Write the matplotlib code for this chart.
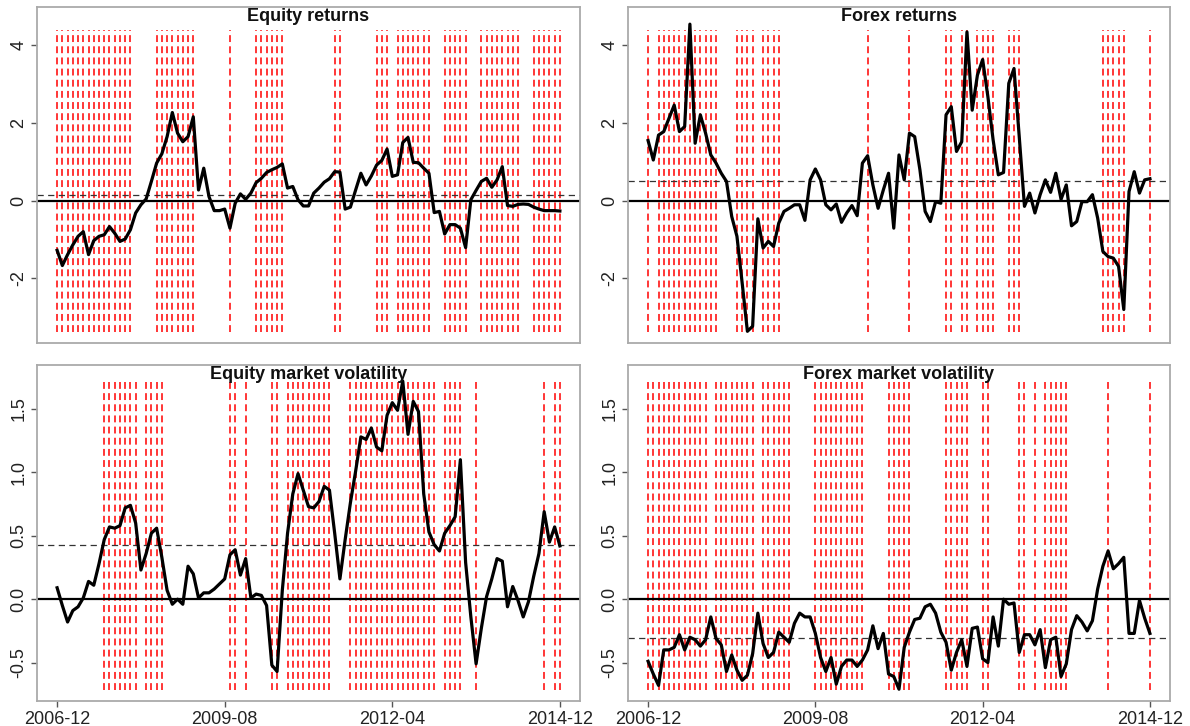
import numpy as np
import matplotlib
matplotlib.use("Agg")
import matplotlib.pyplot as plt

plt.rcParams['font.family'] = ['Liberation Sans', 'DejaVu Sans']
plt.rcParams['axes.unicode_minus'] = False

# monthly observations 2006-12 .. 2014-12 (97 months)
tick_pos = [0, 32, 64, 96]
tick_labels = ['2006-12', '2009-08', '2012-04', '2014-12']

equity_returns = [
    -1.28, -1.67, -1.39, -1.14, -0.92, -0.80, -1.39, -1.03, -0.92, -0.88,
    -0.67, -0.84, -1.05, -0.99, -0.75, -0.32, -0.11, 0.04, 0.49, 0.96,
    1.20, 1.64, 2.26, 1.73, 1.51, 1.64, 2.15, 0.27, 0.83, 0.10,
    -0.26, -0.26, -0.22, -0.71, -0.07, 0.17, 0.03, 0.19, 0.46, 0.57,
    0.72, 0.79, 0.85, 0.94, 0.32, 0.36, 0.02, -0.14, -0.14, 0.19,
    0.32, 0.47, 0.56, 0.74, 0.73, -0.22, -0.17, 0.27, 0.70, 0.40,
    0.63, 0.91, 1.03, 1.32, 0.62, 0.66, 1.49, 1.62, 0.98, 0.97,
    0.83, 0.70, -0.31, -0.28, -0.86, -0.62, -0.62, -0.71, -1.21, 0.02,
    0.26, 0.49, 0.57, 0.34, 0.53, 0.87, -0.13, -0.15, -0.10, -0.09,
    -0.10, -0.17, -0.22, -0.26, -0.26, -0.26, -0.27]

forex_returns = [
    1.54, 1.04, 1.68, 1.77, 2.11, 2.45, 1.77, 1.90, 4.53, 1.47,
    2.20, 1.73, 1.17, 0.96, 0.70, 0.49, -0.41, -0.92, -2.12, -3.36,
    -3.23, -0.47, -1.22, -1.05, -1.18, -0.58, -0.28, -0.20, -0.11, -0.11,
    -0.51, 0.53, 0.81, 0.53, -0.11, -0.24, -0.09, -0.56, -0.32, -0.13,
    -0.39, 0.96, 1.15, 0.40, -0.20, 0.27, 0.70, -0.71, 1.17, 0.53,
    1.73, 1.64, 0.79, -0.28, -0.54, -0.03, -0.07, 2.20, 2.41, 1.26,
    1.51, 4.33, 2.32, 3.22, 3.62, 2.67, 1.56, 0.66, 0.72, 3.01,
    3.39, 1.64, -0.15, 0.19, -0.32, 0.15, 0.53, 0.21, 0.70, 0.03,
    0.40, -0.65, -0.54, -0.03, -0.03, 0.15, -0.45, -1.31, -1.44, -1.48,
    -1.69, -2.80, 0.23, 0.74, 0.19, 0.53, 0.56]

equity_vol = [
    0.09, -0.05, -0.18, -0.09, -0.06, 0.01, 0.14, 0.11, 0.28, 0.47,
    0.57, 0.56, 0.58, 0.72, 0.74, 0.60, 0.23, 0.36, 0.52, 0.56,
    0.33, 0.07, -0.04, 0.00, -0.04, 0.26, 0.20, 0.01, 0.05, 0.05,
    0.08, 0.12, 0.16, 0.35, 0.39, 0.19, 0.32, 0.01, 0.04, 0.03,
    -0.05, -0.52, -0.57, 0.07, 0.52, 0.83, 0.99, 0.86, 0.73, 0.72,
    0.77, 0.89, 0.86, 0.52, 0.16, 0.47, 0.76, 1.01, 1.28, 1.26,
    1.35, 1.20, 1.17, 1.45, 1.55, 1.49, 1.72, 1.30, 1.56, 1.48,
    0.83, 0.53, 0.43, 0.38, 0.52, 0.58, 0.65, 1.10, 0.29, -0.14,
    -0.51, -0.23, 0.02, 0.16, 0.32, 0.30, -0.06, 0.10, -0.01, -0.14,
    -0.02, 0.18, 0.36, 0.69, 0.45, 0.57, 0.42]

forex_vol = [
    -0.49, -0.59, -0.68, -0.40, -0.40, -0.38, -0.28, -0.40, -0.30, -0.32,
    -0.37, -0.32, -0.14, -0.31, -0.36, -0.57, -0.44, -0.56, -0.64, -0.60,
    -0.43, -0.11, -0.35, -0.46, -0.42, -0.26, -0.30, -0.34, -0.19, -0.11,
    -0.14, -0.14, -0.27, -0.46, -0.57, -0.46, -0.67, -0.53, -0.48, -0.48,
    -0.53, -0.48, -0.40, -0.21, -0.39, -0.27, -0.59, -0.61, -0.71, -0.38,
    -0.26, -0.16, -0.15, -0.06, -0.04, -0.11, -0.26, -0.34, -0.56, -0.42,
    -0.32, -0.53, -0.23, -0.22, -0.47, -0.50, -0.14, -0.37, 0.00, -0.04,
    -0.03, -0.42, -0.28, -0.28, -0.36, -0.24, -0.54, -0.32, -0.30, -0.61,
    -0.51, -0.24, -0.13, -0.18, -0.25, -0.17, 0.08, 0.26, 0.38, 0.24,
    0.28, 0.33, -0.27, -0.27, -0.01, -0.15, -0.27]

# average levels (dashed lines)
equity_returns_mean = 0.15
forex_returns_mean = 0.49
equity_vol_mean = 0.43
forex_vol_mean = -0.31

# months flagged with red dashed lines
equity_returns_flags = (list(range(0, 15)) + list(range(19, 27)) + [33]
                        + list(range(38, 44)) + [53, 54] + list(range(61, 64))
                        + list(range(65, 72)) + list(range(74, 79))
                        + list(range(81, 89)) + list(range(91, 97)))
forex_returns_flags = ([0] + list(range(2, 14)) + list(range(17, 21))
                       + list(range(22, 26)) + [42, 50, 57, 58, 60, 61]
                       + list(range(63, 67)) + list(range(69, 72))
                       + list(range(87, 92)) + [96])
equity_vol_flags = (list(range(9, 16)) + list(range(17, 21)) + [33, 34, 36, 41, 42]
                    + list(range(44, 53)) + list(range(56, 73))
                    + list(range(74, 78)) + [80, 93, 95, 96])
forex_vol_flags = (list(range(0, 12)) + list(range(13, 21)) + list(range(22, 28))
                   + list(range(32, 42)) + list(range(46, 51))
                   + list(range(57, 62)) + [64, 65, 71, 72, 74]
                   + list(range(76, 81)) + [88, 96])

months = np.arange(len(equity_returns))

W, H = 1190, 726
fig = plt.figure(figsize=(W / 100, H / 100), dpi=100)


def px_axes(x0, y0, x1, y1):
    return fig.add_axes([x0 / W, 1 - y1 / H, (x1 - x0) / W, (y1 - y0) / H])


panels = [
    (px_axes(37, 7, 580, 343), 'Equity returns', equity_returns, equity_returns_mean,
     equity_returns_flags, (-3.37, 4.39), (-3.66, 4.97), [-2, 0, 2, 4], ['-2', '0', '2', '4'], False),
    (px_axes(628, 7, 1170, 343), 'Forex returns', forex_returns, forex_returns_mean,
     forex_returns_flags, (-3.37, 4.39), (-3.66, 4.97), [-2, 0, 2, 4], ['-2', '0', '2', '4'], False),
    (px_axes(37, 365, 580, 701), 'Equity market volatility', equity_vol, equity_vol_mean,
     equity_vol_flags, (-0.72, 1.72), (-0.803, 1.847), [-0.5, 0, 0.5, 1.0, 1.5],
     ['-0.5', '0.0', '0.5', '1.0', '1.5'], True),
    (px_axes(628, 365, 1170, 701), 'Forex market volatility', forex_vol, forex_vol_mean,
     forex_vol_flags, (-0.72, 1.72), (-0.803, 1.847), [-0.5, 0, 0.5, 1.0, 1.5],
     ['-0.5', '0.0', '0.5', '1.0', '1.5'], True),
]

for ax, title, vals, mean, flags, seg, ylim, yt, ytl, show_x in panels:
    ax.vlines(flags, seg[0], seg[1], colors='red', linewidth=1.1,
              linestyles=[(0, (4.5, 2.8))])
    ax.axhline(0, color='black', lw=1.6)
    ax.axhline(mean, color='#333333', lw=0.9, ls=(0, (5, 3.5)))
    ax.plot(months, vals, color='black', lw=2.3, solid_joinstyle='round')
    ax.set_xlim(-3.84, 99.84)
    ax.set_ylim(*ylim)
    ax.set_yticks(yt)
    ax.set_yticklabels(ytl, rotation=90, va='center')
    if show_x:
        ax.set_xticks(tick_pos)
        ax.set_xticklabels(tick_labels)
    else:
        ax.set_xticks([])
    ax.tick_params(length=4, width=1, color='#555555', labelsize=13,
                   labelcolor='#222222', pad=3)
    for sp in ax.spines.values():
        sp.set_color('#aaaaaa')
        sp.set_linewidth(1.3)
    ax.text(0.5, 0.998, title, transform=ax.transAxes, ha='center', va='top',
            fontsize=13, fontweight='bold', color='#111111')

fig.savefig('out.png', dpi=100)
